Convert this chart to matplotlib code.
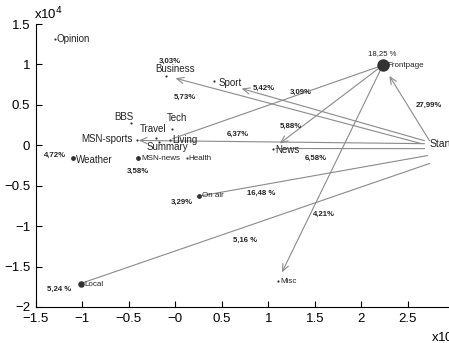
import numpy as np
import matplotlib
matplotlib.use('Agg')
import matplotlib.pyplot as plt

plt.rcParams['font.family'] = ['Liberation Sans', 'DejaVu Sans']

# node positions (units of 1e4)
names = ['Opinion', 'Business', 'Sport', 'Frontpage', 'BBS', 'Tech', 'Travel',
         'MSN-sports', 'Living', 'Summary', 'MSN-news', 'Health', 'Weather',
         'News', 'On air', 'Local', 'Misc', 'Start']
xs = [-1.30, -0.10, 0.41, 2.23, -0.48, -0.04, -0.21, -0.41, -0.06, -0.18,
      -0.40, 0.12, -1.10, 1.05, 0.25, -1.02, 1.10, 2.70]
ys = [1.32, 0.86, 0.80, 0.99, 0.27, 0.20, 0.09, 0.06, 0.07, 0.04,
      -0.16, -0.16, -0.16, -0.04, -0.63, -1.71, -1.68, 0.02]

# node shares shown next to some nodes
node_pct = {'Frontpage': '18,25 %', 'Business': '3,03%', 'Weather': '4,72%',
            'MSN-news': '3,58%', 'On air': '3,29%', 'Local': '5,24 %'}

# transitions: source, target, share
edge_src = ['Start', 'Start', 'Start', 'Frontpage', 'Start', 'Frontpage',
            'Start', 'Start', 'Frontpage', 'Start']
edge_dst = ['Frontpage', 'Business', 'Sport', 'Living', 'MSN-sports', 'News',
            'News', 'On air', 'Misc', 'Local']
edge_pct = ['27,99%', '5,73%', '5,42%', '3,09%', '6,37%', '5,88%',
            '6,58%', '16,48 %', '4,21%', '5,16 %']

pos = {n: (x, y) for n, x, y in zip(names, xs, ys)}

fig = plt.figure(figsize=(4.49, 3.43), dpi=100)
ax = fig.add_axes([0.080, 0.105, 0.932, 0.825])
ax.set_xlim(-1.5, 3)
ax.set_ylim(-2, 1.5)
for s in ['top', 'right']:
    ax.spines[s].set_visible(False)
ax.spines['left'].set_linewidth(0.8)
ax.spines['bottom'].set_linewidth(0.8)
ax.tick_params(direction='in', length=4, width=0.8, labelsize=9.5, pad=4)
xt = [-1.5, -1, -0.5, 0, 0.5, 1, 1.5, 2, 2.5]
ax.set_xticks(xt)
ax.set_xticklabels(['\u22121.5', '\u22121', '\u22120.5', '\u22120', '0.5', '1', '1.5', '2', '2.5'])
yt = [-2, -1.5, -1, -0.5, 0, 0.5, 1, 1.5]
ax.set_yticks(yt)
ax.set_yticklabels(['\u22122', '\u22121.5', '\u22121', '\u22120.5', '0', '0.5', '1', '1.5'])

ax.text(-0.005, 1.005, 'x10$^4$', transform=ax.transAxes, fontsize=9.5,
        ha='left', va='bottom')
ax.text(0.945, -0.075, 'x10$^4$', transform=ax.transAxes, fontsize=9.5,
        ha='left', va='top', clip_on=False)

# edges
px_x = 93.0
px_y = 81.5
src_off = {'Frontpage': (3, -3), 'Sport': (-2, -3), 'Business': (-5, 0),
           'MSN-sports': (-2, 0), 'News': (-2, 5), 'On air': (1, 12),
           'Local': (3, 20)}
head = {'Frontpage': 9, 'Business': 7, 'Sport': 21, 'MSN-sports': 1,
        'News': 6, 'Misc': 7}
gray = '#8a8a8a'
for s, d, p in zip(edge_src, edge_dst, edge_pct):
    x0, y0 = pos[s]
    if s == 'Start':
        ox, oy = src_off.get(d, (0, 0))
        x0 += ox / px_x
        y0 -= oy / px_y
    x1, y1 = pos[d]
    hb = head.get(d, None) if not (s == 'Start' and d == 'News') else None
    style = '->,head_length=0.5,head_width=0.22' if hb is not None else '-'
    ax.annotate('', xy=(x1, y1), xytext=(x0, y0),
                arrowprops=dict(arrowstyle=style, color=gray, lw=0.8,
                                shrinkA=0, shrinkB=hb if hb else 2,
                                mutation_scale=10))

# edge label positions
edge_lab_pos = [(2.73, 0.50), (0.10, 0.59), (0.95, 0.70), (1.35, 0.66),
                (0.67, 0.13), (1.24, 0.23), (1.51, -0.16), (0.92, -0.60),
                (1.60, -0.86), (0.75, -1.17)]
for p, (lx, ly) in zip(edge_pct, edge_lab_pos):
    ax.text(lx, ly, p, fontsize=5.6, fontweight='bold', ha='center',
            va='center', color='#222222')

# nodes
sizes = {'Frontpage': 80, 'Local': 22, 'Weather': 12, 'MSN-news': 12,
         'On air': 12}
for n, x, y in zip(names, xs, ys):
    if n == 'Start':
        continue
    ax.scatter([x], [y], s=sizes.get(n, 2.5), color='#333333', zorder=3,
               linewidths=0)

big = ['Opinion', 'Business', 'Sport', 'BBS', 'Tech', 'Travel', 'MSN-sports',
       'Living', 'Summary', 'Weather', 'News', 'Start']
lab_off = {'Opinion': (2, 0, 'left'), 'Business': (9, 7, 'center'),
           'Sport': (5, -2, 'left'), 'Frontpage': (5, 0, 'left'),
           'BBS': (-7, 6, 'center'), 'Tech': (5, 11, 'center'),
           'Travel': (-3, 9, 'center'), 'MSN-sports': (-5, 1, 'right'),
           'Living': (2, 0, 'left'), 'Summary': (9, -5, 'center'),
           'MSN-news': (3, 0, 'left'), 'Health': (2, 0, 'left'),
           'Weather': (3, -2, 'left'), 'News': (2, -1, 'left'),
           'On air': (3, 1, 'left'), 'Local': (4, -1, 'left'),
           'Misc': (3, 0, 'left'), 'Start': (3, 0, 'left')}
for n, x, y in zip(names, xs, ys):
    dx, dy, ha = lab_off[n]
    fs = 7 if n in big else 5.8
    if n == 'Start':
        fs = 7.5
    ax.annotate(n, xy=(x, y), xytext=(dx, dy), textcoords='offset pixels',
                ha=ha, va='center', fontsize=fs, color='#222222',
                annotation_clip=False)

node_lab_pos = {'Frontpage': (2.22, 1.13), 'Business': (-0.06, 1.04),
                'Weather': (-1.30, -0.13), 'MSN-news': (-0.40, -0.32),
                'On air': (0.07, -0.70), 'Local': (-1.25, -1.78)}
for n, p in node_pct.items():
    lx, ly = node_lab_pos[n]
    w = 'normal' if n == 'Frontpage' else 'bold'
    ax.text(lx, ly, p, fontsize=5.6, fontweight=w, ha='center', va='center',
            color='#222222')

fig.savefig('out.png', dpi=100)
